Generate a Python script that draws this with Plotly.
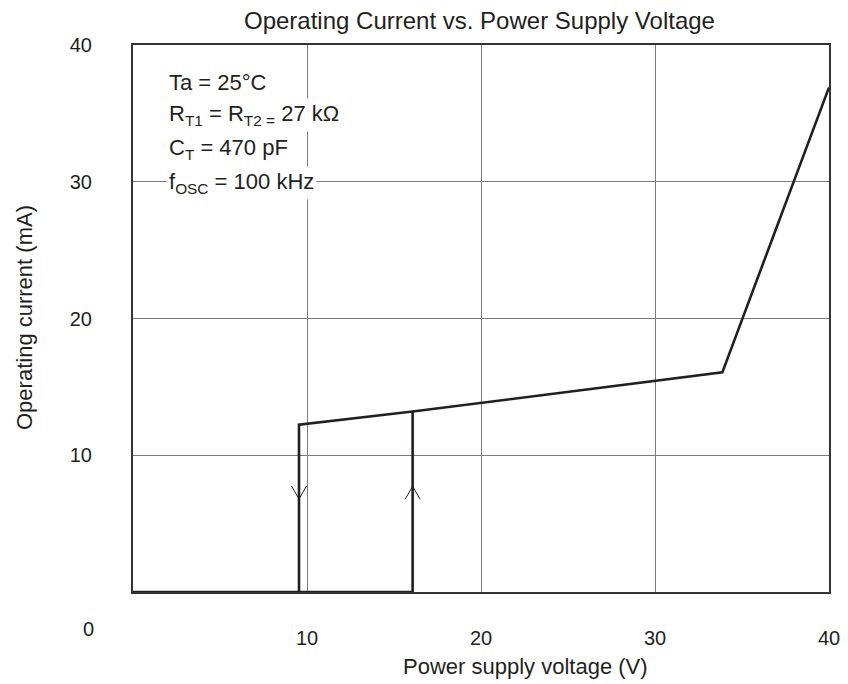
import plotly.graph_objects as go

# ---- data ----
voltage_main = [0, 9.54, 9.54, 16.07, 33.87, 40]
current_main = [0, 0, 12.23, 13.2, 16.06, 36.9]

voltage_rise = [9.54, 16.07, 16.07]
current_rise = [0, 0, 13.2]

# hysteresis direction marks (apex position on the vertical transitions)
arrow_down_v = 9.54
arrow_down_i = 6.8
arrow_up_v = 16.07
arrow_up_i = 7.73

x_ticks = [10, 20, 30, 40]
y_ticks = [10, 20, 30, 40]

conditions = [
    "Ta = 25°C",
    "R<sub>T1</sub> = R<sub>T2 =</sub> 27 kΩ",
    "C<sub>T</sub> = 470 pF",
    "f<sub>OSC</sub> = 100 kHz",
]

FONT = "Liberation Sans, Arial, Helvetica, sans-serif"
INK = "#231f20"
W, H = 848, 684
L, R, T, B = 133, 19, 45, 92
pw, ph = W - L - R, H - T - B

def px(xp):
    return (xp - L) / pw

def py(yp):
    return (H - B - yp) / ph

fig = go.Figure()

line_style = dict(color=INK, width=2.6)
fig.add_trace(go.Scatter(x=voltage_main, y=current_main, mode="lines",
                         line=line_style, cliponaxis=False, hoverinfo="skip"))
fig.add_trace(go.Scatter(x=voltage_rise, y=current_rise, mode="lines",
                         line=line_style, cliponaxis=False, hoverinfo="skip"))

# chevrons: arm offsets (style) around apex data points
dx, dy = 0.43, 0.95
fig.add_trace(go.Scatter(
    x=[arrow_down_v - dx, arrow_down_v, arrow_down_v + dx, None,
       arrow_up_v - dx, arrow_up_v, arrow_up_v + dx],
    y=[arrow_down_i + dy, arrow_down_i, arrow_down_i + dy, None,
       arrow_up_i - dy, arrow_up_i, arrow_up_i - dy],
    mode="lines", line=dict(color=INK, width=1), hoverinfo="skip"))

annotations = []
line_y = [82, 115, 149, 183]
for txt, yp in zip(conditions, line_y):
    annotations.append(dict(
        text=txt, xref="paper", yref="paper", x=px(166), y=py(yp),
        xanchor="left", yanchor="middle", showarrow=False,
        bgcolor="white", borderpad=2,
        font=dict(family=FONT, size=22, color=INK)))

# shared corner "0" label
annotations.append(dict(text="0", xref="paper", yref="paper", x=px(88), y=py(629),
                        xanchor="center", yanchor="middle", showarrow=False,
                        font=dict(family=FONT, size=20, color=INK)))
# axis titles
annotations.append(dict(text="Power supply voltage (V)", xref="paper", yref="paper",
                        x=px(525), y=py(666), xanchor="center", yanchor="middle",
                        showarrow=False, font=dict(family=FONT, size=22, color=INK)))
annotations.append(dict(text="Operating current (mA)", xref="paper", yref="paper",
                        x=px(24), y=py(318), xanchor="center", yanchor="middle",
                        textangle=-90, showarrow=False,
                        font=dict(family=FONT, size=22, color=INK)))
annotations.append(dict(text="Operating Current vs. Power Supply Voltage",
                        xref="paper", yref="paper", x=px(479), y=py(20),
                        xanchor="center", yanchor="middle", showarrow=False,
                        font=dict(family=FONT, size=24, color=INK)))

axis_common = dict(showgrid=True, gridcolor="#7a7a7a", gridwidth=1,
                   showline=True, linecolor="#333333", linewidth=2, mirror=True,
                   ticks="", zeroline=False, automargin=False,
                   tickfont=dict(family=FONT, size=20, color=INK))

fig.update_layout(
    width=W, height=H,
    margin=dict(l=L, r=R, t=T, b=B),
    paper_bgcolor="white", plot_bgcolor="white",
    showlegend=False,
    annotations=annotations,
    xaxis=dict(range=[0, 40], tickvals=x_ticks, ticklabelstandoff=27, **axis_common),
    yaxis=dict(range=[0, 40], tickvals=y_ticks, ticklabelstandoff=35, **axis_common),
)

fig.write_html("out.html", config={"displayModeBar": False},
               post_script="document.body.style.margin='0';document.body.style.padding='0';")
